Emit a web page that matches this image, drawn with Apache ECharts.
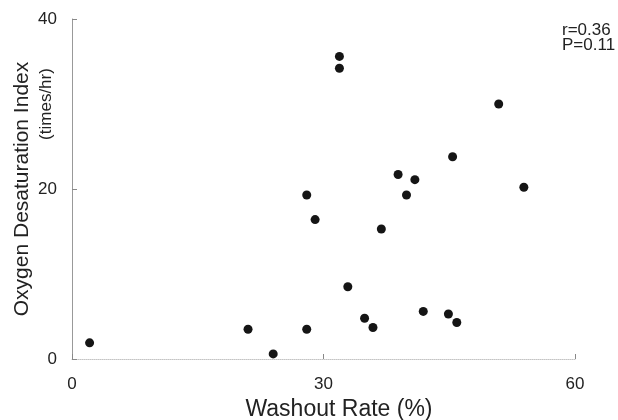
<!DOCTYPE html>
<html>
<head>
<meta charset="utf-8">
<script src="https://cdn.jsdelivr.net/npm/echarts@6/dist/echarts.min.js"></script>
<style>html,body{margin:0;padding:0;background:#fff}#c{width:618px;height:420px}</style>
</head>
<body>
<div id="c"></div>
<script>
const washoutRate = [2.1, 21.0, 24.0, 28.0, 28.0, 29.0, 31.9, 31.9, 32.9, 34.9, 35.9, 36.9, 38.9, 39.9, 40.9, 41.9, 44.9, 45.4, 45.9, 50.9, 53.9];
const odi =         [1.9, 3.5, 0.6, 3.5, 19.3, 16.4, 35.6, 34.2, 8.5, 4.8, 3.7, 15.3, 21.7, 19.3, 21.1, 5.6, 5.3, 23.8, 4.3, 30.0, 20.2];
const xTicks = [0, 30, 60];
const yTicks = [0, 20, 40];
const statsText = ['r=0.36', 'P=0.11'];
const xTitle = 'Washout Rate (%)';
const yTitle = ['Oxygen Desaturation Index', '(times/hr)'];

const points = washoutRate.map((x, i) => [x, odi[i]]);
const chart = echarts.init(document.getElementById('c'));
const font = 'Liberation Sans, Arial, sans-serif';
chart.setOption({
  animation: false,
  backgroundColor: '#fff',
  grid: { left: 72, right: 43, top: 19, bottom: 61, containLabel: false, outerBoundsMode: 'none' },
  xAxis: {
    type: 'value', min: xTicks[0], max: xTicks[xTicks.length - 1], interval: 30,
    name: xTitle, nameLocation: 'middle', nameGap: 39, nameMoveOverlap: false,
    nameTextStyle: { fontFamily: font, fontSize: 23, color: '#222', padding: [0, 0, 0, 31] },
    axisLine: { show: true, lineStyle: { color: '#c4c4c4', width: 1, type: 'dotted' } },
    axisTick: { show: true, inside: true, length: 5, lineStyle: { color: '#888' } },
    axisLabel: { fontFamily: font, fontSize: 17, color: '#222', margin: 17 },
    splitLine: { show: false }
  },
  yAxis: {
    type: 'value', min: yTicks[0], max: yTicks[yTicks.length - 1], interval: 20,
    name: yTitle[0], nameLocation: 'middle', nameGap: 39, nameRotate: 90, nameMoveOverlap: false,
    nameTextStyle: { fontFamily: font, fontSize: 21, color: '#222', lineHeight: 22 },
    axisLine: { show: true, lineStyle: { color: '#999', width: 1 } },
    axisTick: { show: true, inside: true, length: 5, lineStyle: { color: '#888' } },
    axisLabel: { fontFamily: font, fontSize: 17, color: '#222', margin: 15 },
    splitLine: { show: false }
  },
  graphic: [{
    type: 'text', x: 46, y: 104, rotation: Math.PI / 2,
    style: { text: yTitle[1], fontFamily: font, fontSize: 17, fill: '#222', align: 'center', verticalAlign: 'middle' }
  }, {
    type: 'text', left: 562, top: 22,
    style: { text: statsText.join('\n'), fontFamily: font, fontSize: 17, lineHeight: 15, fill: '#222' }
  }],
  series: [{
    type: 'scatter', data: points, symbolSize: 9,
    itemStyle: { color: '#151515', opacity: 1 }
  }]
});
</script>
</body>
</html>
